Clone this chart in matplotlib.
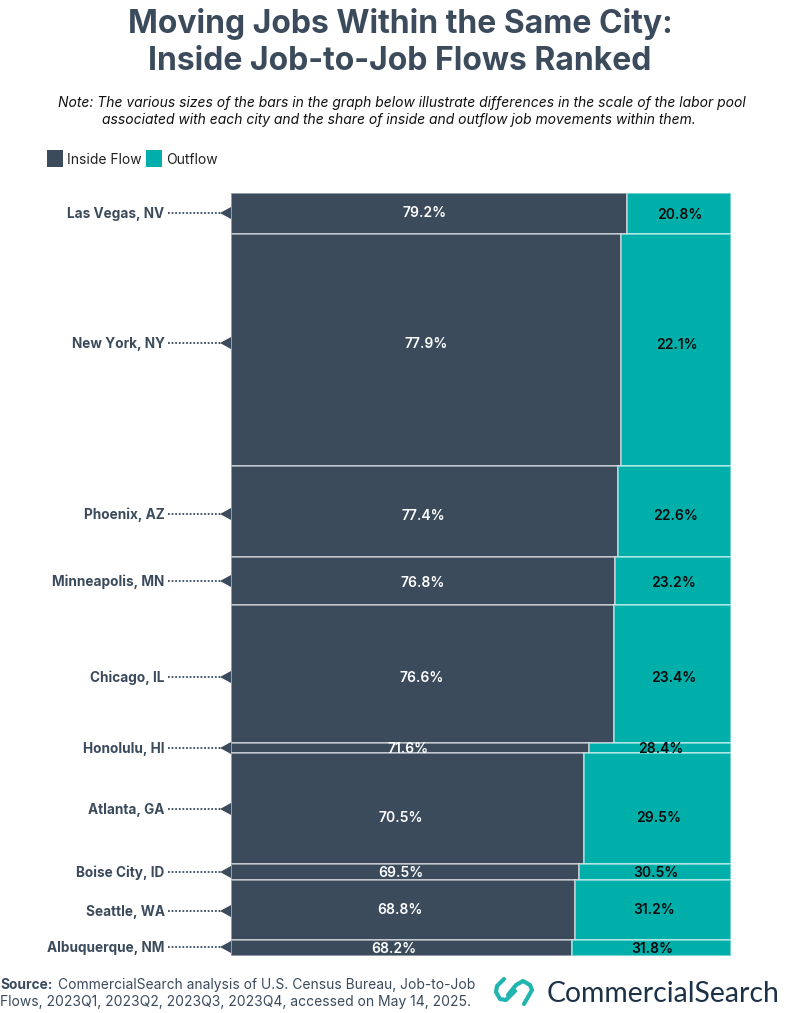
import matplotlib
matplotlib.use("Agg")
import matplotlib.pyplot as plt

W, H = 785, 1013
NAVY = "#3B4B5C"
TEAL = "#00AFAA"

cities = ["Las Vegas, NV", "New York, NY", "Phoenix, AZ", "Minneapolis, MN", "Chicago, IL",
          "Honolulu, HI", "Atlanta, GA", "Boise City, ID", "Seattle, WA", "Albuquerque, NM"]
inside_flow = [79.2, 77.9, 77.4, 76.8, 76.6, 71.6, 70.5, 69.5, 68.8, 68.2]
outflow = [20.8, 22.1, 22.6, 23.2, 23.4, 28.4, 29.5, 30.5, 31.2, 31.8]
# relative size of the labor pool, read from the row heights
pool_size = [41, 232, 91, 48, 138, 10, 111, 16, 60, 16]

# pixel rows for the labels, they are not always centred in the bars
label_y = [214, 344, 515, 582, 678, 749, 810, 873, 912, 948]
line_y = [213, 343, 514, 581, 677, 748, 809, 872, 911, 947]
inside_text_y = [213, 344, 516, 583, 678, 749, 818, 873, 910, 949]
outflow_text_y = [215, 345, 516, 583, 678, 749, 818, 873, 910, 949]
inside_text_x = [425, 426, 423, 423, 422, 408, 401, 401, 400, 394]

plt.rcParams["font.family"] = ["Inter", "DejaVu Sans"]
fig = plt.figure(figsize=(W / 100, H / 100), dpi=100, facecolor="white")

# marimekko bars
ax = fig.add_axes([231 / W, 1 - 956 / H, 500 / W, 763 / H])
ax.set_xlim(0, 100)
ax.set_ylim(sum(pool_size), 0)
ax.axis("off")
top = 0
for i in range(len(cities)):
    ax.barh(top, inside_flow[i], height=pool_size[i], align="edge", color=NAVY,
            edgecolor=(1, 1, 1, 0.5), linewidth=1.3)
    ax.barh(top, outflow[i], left=inside_flow[i], height=pool_size[i], align="edge", color=TEAL,
            edgecolor=(1, 1, 1, 0.5), linewidth=1.3)
    top += pool_size[i]

# overlay in pixels for the text and decorations
px = fig.add_axes([0, 0, 1, 1])
px.set_xlim(0, W)
px.set_ylim(H, 0)
px.axis("off")
px.patch.set_alpha(0)

px.text(400, 24, "Moving Jobs Within the Same City:", ha="center", va="center",
        fontsize=23, fontweight="bold", color=NAVY)
px.text(400, 61, "Inside Job-to-Job Flows Ranked", ha="center", va="center",
        fontsize=23, fontweight="bold", color=NAVY)
px.text(402, 103, "Note: The various sizes of the bars in the graph below illustrate differences in the scale of the labor pool",
        ha="center", va="center", fontsize=10, style="italic", color="#111111")
px.text(399, 120, "associated with each city and the share of inside and outflow job movements within them.",
        ha="center", va="center", fontsize=10, style="italic", color="#111111")

# legend
px.add_patch(plt.Rectangle((47, 150), 16, 17, color=NAVY, lw=0))
px.text(67, 160, "Inside Flow", va="center", fontsize=10, color="#222222")
px.add_patch(plt.Rectangle((146, 150), 16, 17, color=TEAL, lw=0))
px.text(166, 160, "Outflow", va="center", fontsize=10, color="#222222")

for i, city in enumerate(cities):
    y = line_y[i]
    px.text(164.5, label_y[i], city, ha="right", va="center", fontsize=9.8, fontweight="bold", color=NAVY)
    px.plot([168, 222], [y, y], color=NAVY, lw=1.3, ls=(0, (1, 1)))
    px.fill([220, 231, 231], [y, y - 6, y + 6], color=NAVY, lw=0)
    px.text(inside_text_x[i], inside_text_y[i], f"{inside_flow[i]}%", ha="center", va="center",
            fontsize=10, fontweight="semibold", color="white")
    x_out = 232 + (inside_flow[i] + outflow[i] / 2) * 5
    px.text(x_out, outflow_text_y[i], f"{outflow[i]}%", ha="center", va="center",
            fontsize=10, fontweight="semibold", color="#0A0A0A")

# source note
px.text(0, 985, "Source:", va="center", fontsize=9.9, fontweight="bold", color=NAVY)
px.text(57.5, 985, "CommercialSearch analysis of U.S. Census Bureau, Job-to-Job", va="center", fontsize=9.95, color=NAVY)
px.text(0, 1002, "Flows, 2023Q1, 2023Q2, 2023Q3, 2023Q4, accessed on May 14, 2025.", va="center", fontsize=10, color=NAVY)

# logo
px.plot([504, 497, 496, 500, 506, 515], [979, 986, 992, 999, 1000, 991],
        color="#22B5B0", lw=3, solid_capstyle="round", solid_joinstyle="round")
px.plot([508, 516, 523, 530, 532, 524], [995, 985, 981, 985, 990, 1004],
        color="#22B5B0", lw=3, solid_capstyle="round", solid_joinstyle="round")
px.text(547, 993.5, "CommercialSearch", va="center", fontsize=20.4, family=["Lato", "DejaVu Sans"], color="#1D3246")

fig.savefig("out.png", dpi=100)
